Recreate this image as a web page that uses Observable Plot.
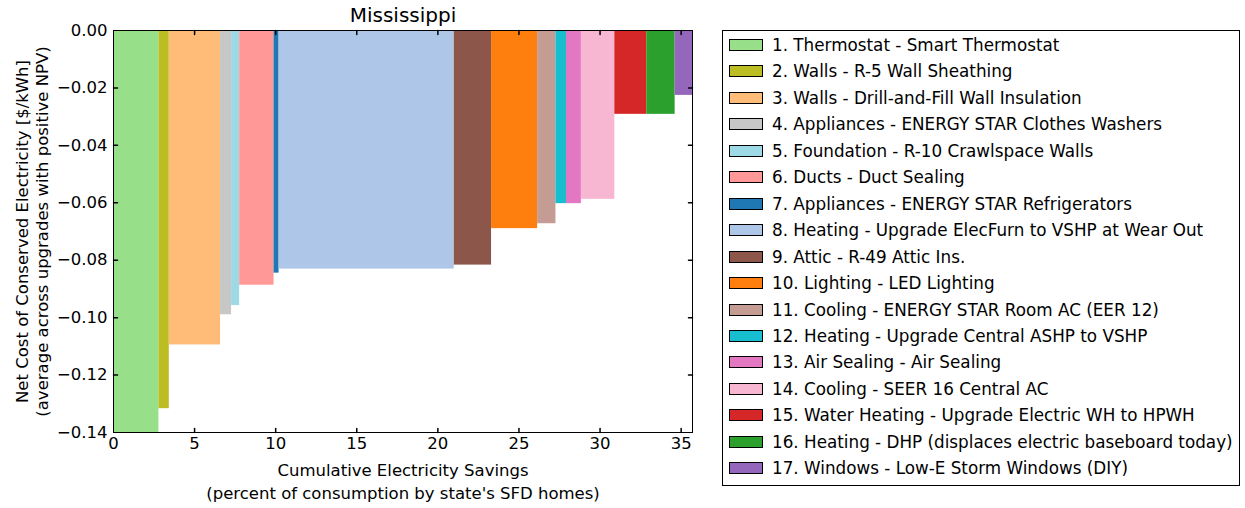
<!DOCTYPE html>
<html>
<head>
<meta charset="utf-8">
<script src="https://cdn.jsdelivr.net/npm/d3@7"></script>
<script src="https://cdn.jsdelivr.net/npm/@observablehq/plot@0.6"></script>
<style>
  html, body { margin: 0; padding: 0; background: #fff; }
  body { width: 1245px; height: 508px; position: relative; overflow: hidden; font-family: "DejaVu Sans", sans-serif; }
  #chart { position: absolute; left: 0; top: 0; }
  #legend { position: absolute; left: 722px; top: 30px; width: 516px; height: 454px; border: 1px solid #000; box-sizing: content-box; }
  .row { position: absolute; left: 6px; height: 26px; display: flex; align-items: center; font-size: 16.8px; color: #000; white-space: nowrap; }
  .sw { width: 32px; height: 10px; border: 1px solid #000; margin-right: 9px; }
</style>
</head>
<body>
<div id="chart"></div>
<div id="legend"></div>
<script>
const upgrades = [
  "1. Thermostat - Smart Thermostat",
  "2. Walls - R-5 Wall Sheathing",
  "3. Walls - Drill-and-Fill Wall Insulation",
  "4. Appliances - ENERGY STAR Clothes Washers",
  "5. Foundation - R-10 Crawlspace Walls",
  "6. Ducts - Duct Sealing",
  "7. Appliances - ENERGY STAR Refrigerators",
  "8. Heating - Upgrade ElecFurn to VSHP at Wear Out",
  "9. Attic - R-49 Attic Ins.",
  "10. Lighting - LED Lighting",
  "11. Cooling - ENERGY STAR Room AC (EER 12)",
  "12. Heating - Upgrade Central ASHP to VSHP",
  "13. Air Sealing - Air Sealing",
  "14. Cooling - SEER 16 Central AC",
  "15. Water Heating - Upgrade Electric WH to HPWH",
  "16. Heating - DHP (displaces electric baseboard today)",
  "17. Windows - Low-E Storm Windows (DIY)"
];
// electricity savings of each upgrade (percent of consumption)
const savings = [2.80, 0.64, 3.16, 0.68, 0.50, 2.12, 0.31, 10.80, 2.30, 2.84, 1.13, 0.65, 0.92, 2.06, 1.97, 1.75, 1.07];
// net cost of conserved electricity ($/kWh)
const netCost = [-0.140, -0.1317, -0.1095, -0.0990, -0.0958, -0.0887, -0.0845, -0.0831, -0.0817, -0.0690, -0.0673, -0.0603, -0.0603, -0.0588, -0.0292, -0.0292, -0.0226];
const colors = ["#98df8a", "#bcbd22", "#ffbb78", "#c7c7c7", "#9edae5", "#ff9896", "#1f77b4", "#aec7e8", "#8c564b", "#ff7f0e", "#c49c94", "#17becf", "#e377c2", "#f7b6d2", "#d62728", "#2ca02c", "#9467bd"];
const xTicks = [0, 5, 10, 15, 20, 25, 30, 35];
const yTicks = [0, -0.02, -0.04, -0.06, -0.08, -0.10, -0.12, -0.14];
const title = "Mississippi";
const xLabel = "Cumulative Electricity Savings\n(percent of consumption by state's SFD homes)";
const yLabel = "Net Cost of Conserved Electricity [$/kWh]\n(average across upgrades with positive NPV)";

const ends = d3.cumsum(savings);
const bars = upgrades.map((name, i) => ({
  name,
  x1: i === 0 ? 0 : ends[i - 1],
  x2: ends[i],
  y: netCost[i],
  color: colors[i]
}));
const xMax = ends[ends.length - 1];
const yMin = -0.14;

const tickShape = { draw(context, l) { context.moveTo(0, 0); context.lineTo(0, -l); } };
const innerX = xTicks.filter(d => d > 0 && d < xMax);
const innerY = yTicks.filter(d => d < 0 && d > yMin);

const chart = Plot.plot({
  width: 700,
  height: 508,
  marginLeft: 113,
  marginRight: 8,
  marginTop: 30,
  marginBottom: 76,
  style: { fontFamily: "DejaVu Sans, sans-serif", fontSize: "16.5px", color: "#000", background: "#fff" },
  x: { domain: [0, xMax], ticks: xTicks, tickFormat: d3.format("d") },
  y: { domain: [yMin, 0], ticks: yTicks, tickFormat: d3.format(".2f") },
  marks: [
    Plot.rectY(bars, { x1: "x1", x2: "x2", y1: 0, y2: "y", fill: "color", clip: true }),
    Plot.frame({ stroke: "#000", strokeWidth: 1 }),
    Plot.axisX({ ticks: xTicks, tickSize: 0, tickPadding: 5, label: null, tickFormat: d3.format("d") }),
    Plot.axisY({ ticks: yTicks, tickSize: 0, tickPadding: 6, label: null, tickFormat: d3.format(".2f") }),
    Plot.vector(innerX, { x: d => d, y: yMin, length: 4, rotate: 0, anchor: "start", shape: tickShape, stroke: "#000" }),
    Plot.vector(innerX, { x: d => d, y: 0, length: 4, rotate: 180, anchor: "start", shape: tickShape, stroke: "#000" }),
    Plot.vector(innerY, { x: 0, y: d => d, length: 4, rotate: 90, anchor: "start", shape: tickShape, stroke: "#000" }),
    Plot.vector(innerY, { x: xMax, y: d => d, length: 4, rotate: 270, anchor: "start", shape: tickShape, stroke: "#000" }),
    Plot.text([title], { frameAnchor: "top", dy: -15, fontSize: 20, lineAnchor: "middle", fill: "#000" }),
    Plot.text([xLabel], { frameAnchor: "bottom", dy: 48, fontSize: 16.5, lineAnchor: "middle", lineHeight: 1.4, fill: "#000" }),
    Plot.text([yLabel], { frameAnchor: "left", dx: -82, rotate: -90, textAnchor: "middle", fontSize: 16.5, lineAnchor: "middle", lineHeight: 1.2, fill: "#000" })
  ]
});
document.getElementById("chart").appendChild(chart);

const legend = document.getElementById("legend");
upgrades.forEach((name, i) => {
  const row = document.createElement("div");
  row.className = "row";
  row.style.top = (1 + i * 26.45) + "px";
  const sw = document.createElement("div");
  sw.className = "sw";
  sw.style.background = colors[i];
  const t = document.createElement("span");
  t.textContent = name;
  row.appendChild(sw);
  row.appendChild(t);
  legend.appendChild(row);
});
</script>
</body>
</html>
